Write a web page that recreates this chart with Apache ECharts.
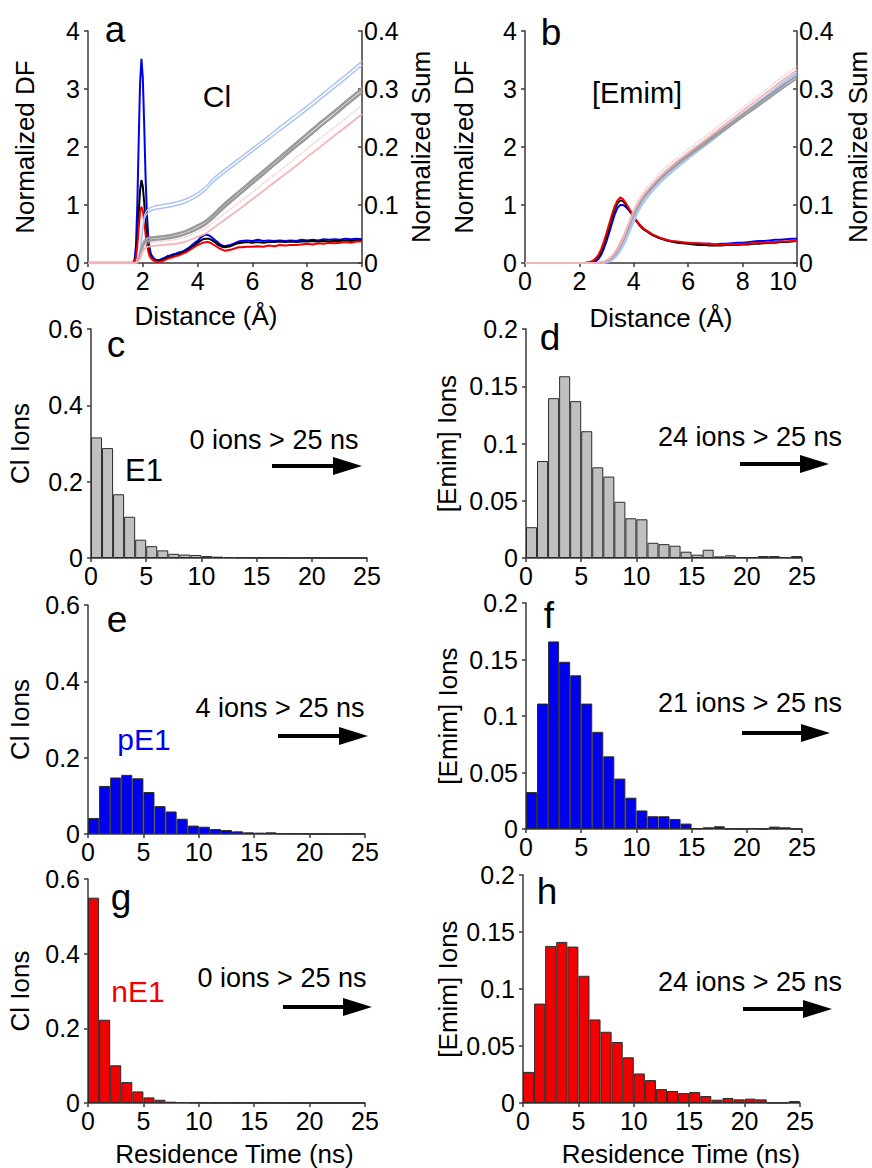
<!DOCTYPE html>
<html>
<head>
<meta charset="utf-8">
<script src="https://cdn.jsdelivr.net/npm/echarts@6/dist/echarts.min.js"></script>
<style>
html, body { margin: 0; padding: 0; background: #fff; }
#chart { width: 872px; height: 1168px; }
</style>
</head>
<body>
<div id="chart"></div>
<script>
// ---------- Panel a: Cl distribution functions (left axis) ----------
const distA = [0, 1.5, 1.6, 1.65, 1.7, 1.75, 1.8, 1.85, 1.9, 1.95, 2.0, 2.05, 2.1, 2.15, 2.2, 2.25, 2.3,
  2.4, 2.5, 2.6, 2.7, 2.8, 2.9, 3.0, 3.1, 3.2, 3.3, 3.4, 3.5, 3.6, 3.7, 3.8, 3.9, 4.0, 4.1, 4.2, 4.3, 4.4,
  4.5, 4.6, 4.7, 4.8, 4.9, 5.0, 5.1, 5.2, 5.3, 5.4, 5.5, 5.6,
  5.8, 6.0, 6.2, 6.4, 6.6, 6.8, 7.0, 7.2, 7.4, 7.6, 7.8, 8.0, 8.2, 8.4, 8.6, 8.8, 9.0, 9.2, 9.4, 9.6, 9.8, 10.0];
const dfBlueA = [0, 0, 0, 0.01, 0.05, 0.3, 1.0, 2.1, 3.1, 3.52, 3.2, 2.4, 1.5, 0.85, 0.45, 0.25, 0.15,
  0.08, 0.05, 0.05, 0.07, 0.09, 0.12, 0.13, 0.15, 0.16, 0.18, 0.19, 0.21, 0.24, 0.27, 0.31, 0.35, 0.38, 0.43, 0.47, 0.49, 0.48,
  0.45, 0.41, 0.37, 0.33, 0.30, 0.29, 0.30, 0.31, 0.33, 0.35, 0.37, 0.38,
  0.39, 0.38, 0.40, 0.38, 0.39, 0.38, 0.39, 0.38, 0.39, 0.38, 0.40, 0.39, 0.40, 0.39, 0.41, 0.40, 0.41, 0.40, 0.42, 0.41, 0.42, 0.41];
const dfBlackA = [0, 0, 0, 0, 0.03, 0.15, 0.45, 0.85, 1.25, 1.43, 1.32, 1.05, 0.72, 0.45, 0.27, 0.16, 0.10,
  0.05, 0.03, 0.03, 0.05, 0.07, 0.09, 0.11, 0.12, 0.14, 0.15, 0.17, 0.19, 0.21, 0.24, 0.28, 0.31, 0.35, 0.38, 0.41, 0.42, 0.42,
  0.40, 0.37, 0.33, 0.30, 0.28, 0.27, 0.28, 0.29, 0.31, 0.33, 0.34, 0.35,
  0.36, 0.35, 0.36, 0.35, 0.36, 0.36, 0.37, 0.36, 0.37, 0.36, 0.37, 0.37, 0.38, 0.37, 0.38, 0.37, 0.38, 0.38, 0.39, 0.38, 0.39, 0.39];
const dfRedA = [0, 0, 0, 0, 0.02, 0.1, 0.3, 0.6, 0.88, 0.97, 0.9, 0.72, 0.5, 0.32, 0.2, 0.12, 0.08,
  0.04, 0.02, 0.02, 0.03, 0.05, 0.07, 0.09, 0.10, 0.12, 0.13, 0.15, 0.17, 0.19, 0.22, 0.25, 0.28, 0.31, 0.33, 0.35, 0.36, 0.36,
  0.34, 0.31, 0.28, 0.25, 0.23, 0.21, 0.22, 0.23, 0.24, 0.26, 0.27, 0.27,
  0.28, 0.28, 0.29, 0.28, 0.30, 0.29, 0.31, 0.30, 0.31, 0.31, 0.32, 0.33, 0.32, 0.34, 0.33, 0.35, 0.34, 0.35, 0.36, 0.35, 0.37, 0.37];

// ---------- Panel a: running sums (right axis), each drawn as a pair of lines ----------
const sumXA = [0, 1.7, 1.8, 1.9, 1.95, 2.0, 2.05, 2.1, 2.2, 2.3, 2.5, 3.0, 3.5, 4.0, 4.3, 4.6, 5.0, 5.5, 6.0, 6.5, 7.0, 7.5, 8.0, 8.5, 9.0, 9.5, 10.0];
const sumBlueHiA = [0, 0, 0.004, 0.022, 0.042, 0.063, 0.078, 0.087, 0.093, 0.096, 0.099, 0.103, 0.109, 0.121, 0.132, 0.147, 0.162, 0.180, 0.198, 0.216, 0.235, 0.253, 0.271, 0.290, 0.309, 0.328, 0.348];
const sumBlueLoA = [0, 0, 0.003, 0.019, 0.038, 0.058, 0.073, 0.081, 0.087, 0.090, 0.093, 0.097, 0.103, 0.115, 0.126, 0.141, 0.156, 0.174, 0.192, 0.210, 0.228, 0.246, 0.264, 0.283, 0.302, 0.321, 0.341];
const sumGrayHiA = [0, 0, 0.002, 0.013, 0.023, 0.031, 0.037, 0.040, 0.043, 0.044, 0.045, 0.048, 0.054, 0.065, 0.073, 0.085, 0.103, 0.123, 0.143, 0.163, 0.183, 0.203, 0.223, 0.243, 0.262, 0.282, 0.301];
const sumGrayLoA = [0, 0, 0.001, 0.011, 0.020, 0.027, 0.033, 0.036, 0.038, 0.039, 0.040, 0.043, 0.049, 0.059, 0.067, 0.079, 0.097, 0.117, 0.137, 0.157, 0.177, 0.197, 0.216, 0.236, 0.255, 0.275, 0.294];
const sumPinkHiA = [0, 0, 0.002, 0.010, 0.018, 0.025, 0.029, 0.032, 0.034, 0.035, 0.036, 0.039, 0.044, 0.053, 0.060, 0.071, 0.086, 0.104, 0.122, 0.141, 0.159, 0.178, 0.197, 0.216, 0.234, 0.253, 0.272];
const sumPinkLoA = [0, 0, 0.001, 0.008, 0.014, 0.020, 0.024, 0.026, 0.028, 0.029, 0.030, 0.032, 0.036, 0.045, 0.051, 0.061, 0.075, 0.092, 0.110, 0.128, 0.146, 0.164, 0.183, 0.201, 0.220, 0.238, 0.257];

// ---------- Panel b: [Emim] distribution functions ----------
const distB = [0, 2.0, 2.2,
  2.3, 2.4, 2.5, 2.6, 2.7, 2.8, 2.9, 3.0, 3.1, 3.2, 3.3, 3.4, 3.5, 3.6, 3.7, 3.8, 3.9, 4.0, 4.1, 4.2, 4.3, 4.4, 4.5, 4.6, 4.7, 4.8, 4.9, 5.0,
  5.2, 5.4, 5.6, 5.8, 6.0, 6.2, 6.4, 6.6, 6.8, 7.0, 7.2, 7.4, 7.6, 7.8, 8.0, 8.2, 8.4, 8.6, 8.8, 9.0, 9.2, 9.4, 9.6, 9.8, 10.0];
const dfRedB = [0, 0, 0,
  0.01, 0.02, 0.04, 0.08, 0.14, 0.24, 0.37, 0.52, 0.68, 0.84, 0.98, 1.08, 1.13, 1.10, 1.04, 0.96, 0.88, 0.80, 0.73, 0.67, 0.62, 0.58, 0.55, 0.52, 0.49, 0.47, 0.45, 0.43,
  0.40, 0.38, 0.37, 0.36, 0.35, 0.34, 0.34, 0.33, 0.33, 0.32, 0.32, 0.32, 0.33, 0.32, 0.33, 0.33, 0.34, 0.35, 0.35, 0.36, 0.36, 0.37, 0.37, 0.38, 0.38];
const dfBlueB = [0, 0, 0,
  0, 0.005, 0.01, 0.03, 0.07, 0.14, 0.25, 0.38, 0.53, 0.69, 0.84, 0.95, 1.0, 1.0, 0.97, 0.92, 0.86, 0.79, 0.72, 0.66, 0.61, 0.57, 0.54, 0.51, 0.48, 0.46, 0.44, 0.42,
  0.39, 0.37, 0.36, 0.35, 0.34, 0.34, 0.33, 0.33, 0.33, 0.32, 0.33, 0.33, 0.34, 0.35, 0.35, 0.36, 0.37, 0.38, 0.38, 0.39, 0.40, 0.40, 0.41, 0.42, 0.42];
const dfBlackB = [0, 0, 0,
  0.005, 0.01, 0.03, 0.06, 0.11, 0.20, 0.32, 0.46, 0.62, 0.78, 0.93, 1.03, 1.08, 1.07, 1.01, 0.94, 0.87, 0.79, 0.72, 0.66, 0.61, 0.57, 0.54, 0.51, 0.48, 0.46, 0.44, 0.42,
  0.39, 0.37, 0.35, 0.34, 0.33, 0.32, 0.31, 0.31, 0.30, 0.30, 0.30, 0.31, 0.31, 0.31, 0.32, 0.32, 0.33, 0.33, 0.34, 0.35, 0.35, 0.36, 0.36, 0.37, 0.38];

// ---------- Panel b: running sums ----------
const sumXB = [0, 2.5, 2.8, 3.0, 3.2, 3.4, 3.6, 3.8, 4.0, 4.2, 4.4, 4.6, 5.0, 5.5, 6.0, 6.5, 7.0, 7.5, 8.0, 8.5, 9.0, 9.5, 10.0];
const sumPinkHiB = [0, 0, 0.002, 0.006, 0.014, 0.028, 0.047, 0.070, 0.094, 0.112, 0.126, 0.137, 0.157, 0.178, 0.196, 0.214, 0.232, 0.250, 0.268, 0.286, 0.304, 0.322, 0.340];
const sumPinkLoB = [0, 0, 0.001, 0.004, 0.011, 0.024, 0.042, 0.065, 0.088, 0.106, 0.120, 0.131, 0.151, 0.172, 0.190, 0.208, 0.226, 0.244, 0.262, 0.280, 0.298, 0.316, 0.333];
const sumGrayHiB = [0, 0, 0.001, 0.004, 0.011, 0.024, 0.042, 0.064, 0.087, 0.105, 0.119, 0.130, 0.150, 0.170, 0.188, 0.205, 0.222, 0.239, 0.256, 0.273, 0.290, 0.307, 0.323];
const sumGrayLoB = [0, 0, 0.001, 0.003, 0.009, 0.021, 0.038, 0.060, 0.083, 0.101, 0.115, 0.126, 0.146, 0.166, 0.184, 0.201, 0.218, 0.235, 0.252, 0.268, 0.285, 0.302, 0.318];
const sumBlueHiB = [0, 0, 0, 0.002, 0.007, 0.017, 0.033, 0.054, 0.077, 0.097, 0.112, 0.124, 0.145, 0.166, 0.185, 0.203, 0.221, 0.239, 0.257, 0.275, 0.293, 0.311, 0.329];
const sumBlueLoB = [0, 0, 0, 0.001, 0.005, 0.014, 0.029, 0.049, 0.072, 0.092, 0.107, 0.119, 0.140, 0.161, 0.180, 0.198, 0.216, 0.234, 0.252, 0.270, 0.288, 0.306, 0.324];

// ---------- Panels c-h: residence time histograms (1 ns bins) ----------
const bins = ['0', '1', '2', '3', '4', '5', '6', '7', '8', '9', '10', '11', '12', '13', '14', '15', '16', '17', '18', '19', '20', '21', '22', '23', '24'];
const clE1 = [0.316, 0.288, 0.167, 0.108, 0.048, 0.031, 0.020, 0.011, 0.009, 0.008, 0.005, 0.0035, 0.0026, 0.002, 0.0015, 0.001, 0.001, 0.0008, 0.0005, 0.0008, 0.0005, 0.0003, 0.0005, 0.0003, 0];
const emimE1 = [0.0269, 0.0847, 0.1396, 0.1587, 0.137, 0.1107, 0.0792, 0.0711, 0.0491, 0.0347, 0.0338, 0.0133, 0.0121, 0.0107, 0.0055, 0.0029, 0.0072, 0.0014, 0.0023, 0.0009, 0.0009, 0.0017, 0.0017, 0.0009, 0.0017];
const clPE1 = [0.042, 0.126, 0.148, 0.155, 0.146, 0.110, 0.073, 0.059, 0.040, 0.022, 0.019, 0.013, 0.0105, 0.007, 0.0044, 0.0035, 0.0044, 0.0017, 0.001, 0.0009, 0.0005, 0.0005, 0.0005, 0.0005, 0.0005];
const emimPE1 = [0.0327, 0.111, 0.166, 0.148, 0.136, 0.111, 0.086, 0.0643, 0.0446, 0.0277, 0.0164, 0.0113, 0.0113, 0.0089, 0.0048, 0.0006, 0.0015, 0.0024, 0.0003, 0, 0.0006, 0, 0.0021, 0.0015, 0];
const clNE1 = [0.550, 0.223, 0.101, 0.056, 0.031, 0.015, 0.0087, 0.0035, 0.0026, 0.0017, 0.0012, 0.0008, 0.0006, 0.0005, 0.0006, 0.0004, 0.0004, 0.0003, 0.0003, 0.0002, 0.0002, 0.0002, 0.0001, 0.0002, 0.0001];
const emimNE1 = [0.0273, 0.0872, 0.1378, 0.1413, 0.1372, 0.1116, 0.0733, 0.0625, 0.0535, 0.0401, 0.0259, 0.0201, 0.0122, 0.0105, 0.0087, 0.0096, 0.0061, 0.0029, 0.0044, 0.0032, 0.0038, 0.0032, 0.0003, 0.0003, 0.0017];

// ---------- styling ----------
const FONT = '"Liberation Sans", Arial, Helvetica, sans-serif';
const INK = '#3a3a3a';
const C = {
  blue: '#0000f0', black: '#000000', red: '#f00000',
  sumBlue: '#adc4f3', sumGray: '#9a9a9a', sumPink: '#f4b3b6',
  gray: '#c0c0c0', edge: '#2b2b2b'
};

function pairs(xs, ys) { return xs.map((x, i) => [x, ys[i]]); }

const line = { show: true, lineStyle: { color: INK, width: 1.5 } };
const tick = { show: true, length: 4, lineStyle: { color: INK, width: 1.5 } };
const tickIn = { show: true, inside: true, length: 4, lineStyle: { color: INK, width: 1.5 } };
const lbl = (extra) => Object.assign({ color: '#000', fontSize: 25, fontFamily: FONT }, extra || {});
const nameStyle = (extra) => Object.assign({ color: '#000', fontSize: 26, fontFamily: FONT }, extra || {});

const grids = [
  { left: 88, top: 31, width: 274, height: 232 },   // a
  { left: 525, top: 31, width: 272, height: 232 },  // b
  { left: 91, top: 329, width: 276, height: 229 },  // c
  { left: 526, top: 329, width: 276, height: 229 }, // d
  { left: 88, top: 605, width: 277, height: 229 },  // e
  { left: 526, top: 603, width: 276, height: 226 }, // f
  { left: 88, top: 879, width: 277, height: 228 },  // g
  { left: 523, top: 875, width: 277, height: 229 }  // h
];

const xAxes = [];
const yAxes = [];
const series = [];

// distance axes for a and b
[[0, 40, [0, 38, 0, 0]], [1, 42, [0, 0, 0, 0]]].forEach(([g, gap, pad]) => {
  xAxes.push({
    type: 'value', gridIndex: g, position: 'bottom', min: 0, max: 10, interval: 2,
    name: 'Distance (Å)', nameLocation: 'middle', nameGap: gap,
    nameTextStyle: nameStyle({ padding: pad }),
    axisLine: line, axisTick: tick, splitLine: { show: false },
    axisLabel: lbl({ margin: 5, alignMaxLabel: 'right' })
  });
});
[[0, 50, 46], [1, 48, 48]].forEach(([g, gapL, gapR]) => {
  yAxes.push({
    type: 'value', gridIndex: g, min: 0, max: 4, interval: 1, position: 'left',
    name: 'Normalized DF', nameLocation: 'middle', nameGap: gapL, nameTextStyle: nameStyle(),
    axisLine: line, axisTick: tick, splitLine: { show: false }, axisLabel: lbl({ margin: 8 })
  });
  yAxes.push({
    type: 'value', gridIndex: g, min: 0, max: 0.4, interval: 0.1, position: 'right',
    name: 'Normalized Sum', nameLocation: 'middle', nameGap: gapR, nameRotate: 90, nameTextStyle: nameStyle(),
    axisLine: line, axisTick: tickIn, splitLine: { show: false }, axisLabel: lbl({ margin: 2 })
  });
});

function dfLine(xIdx, yIdx, xs, ys, color) {
  series.push({
    type: 'line', xAxisIndex: xIdx, yAxisIndex: yIdx, data: pairs(xs, ys),
    showSymbol: false, silent: true, lineStyle: { color: color, width: 2 }, z: 3
  });
}
function sumLine(xIdx, yIdx, xs, ys, color, width, type) {
  series.push({
    type: 'line', xAxisIndex: xIdx, yAxisIndex: yIdx, data: pairs(xs, ys), smooth: 0.3,
    showSymbol: false, silent: true, lineStyle: { color: color, width: width, type: type || 'solid' }, z: 4
  });
}

// panel a
dfLine(0, 0, distA, dfBlueA, C.blue);
dfLine(0, 0, distA, dfBlackA, C.black);
dfLine(0, 0, distA, dfRedA, C.red);
sumLine(0, 1, sumXA, sumBlueHiA, C.sumBlue, 1.5);
sumLine(0, 1, sumXA, sumBlueLoA, C.sumBlue, 1.5);
sumLine(0, 1, sumXA, sumGrayHiA, C.sumGray, 2.5);
sumLine(0, 1, sumXA, sumGrayLoA, C.sumGray, 2.5);
sumLine(0, 1, sumXA, sumPinkHiA, C.sumPink, 1.2, 'dotted');
sumLine(0, 1, sumXA, sumPinkLoA, C.sumPink, 1.8);

// panel b
dfLine(1, 2, distB, dfBlueB, C.blue);
dfLine(1, 2, distB, dfBlackB, C.black);
dfLine(1, 2, distB, dfRedB, C.red);
sumLine(1, 3, sumXB, sumBlueHiB, C.sumBlue, 2);
sumLine(1, 3, sumXB, sumBlueLoB, C.sumBlue, 2);
sumLine(1, 3, sumXB, sumGrayHiB, C.sumGray, 1.8);
sumLine(1, 3, sumXB, sumGrayLoB, C.sumGray, 1.8);
sumLine(1, 3, sumXB, sumPinkHiB, C.sumPink, 1.2, 'dotted');
sumLine(1, 3, sumXB, sumPinkLoB, C.sumPink, 1.8);

// histogram panels
const hists = [
  { grid: 2, data: clE1, color: C.gray, max: 0.6, step: 0.2, name: 'Cl Ions', gap: 58, title: false },
  { grid: 3, data: emimE1, color: C.gray, max: 0.2, step: 0.05, name: '[Emim] Ions', gap: 66, title: false },
  { grid: 4, data: clPE1, color: C.blue, max: 0.6, step: 0.2, name: 'Cl Ions', gap: 55, title: false },
  { grid: 5, data: emimPE1, color: C.blue, max: 0.2, step: 0.05, name: '[Emim] Ions', gap: 65, title: false },
  { grid: 6, data: clNE1, color: C.red, max: 0.6, step: 0.2, name: 'Cl Ions', gap: 55, title: true, pad: [0, 0, 0, 16] },
  { grid: 7, data: emimNE1, color: C.red, max: 0.2, step: 0.05, name: '[Emim] Ions', gap: 62, title: true, pad: [0, 0, 0, 39] }
];
hists.forEach((h) => {
  const catIdx = xAxes.length;
  xAxes.push({ type: 'category', gridIndex: h.grid, position: 'bottom', data: bins, show: false, boundaryGap: true });
  const valAxis = {
    type: 'value', gridIndex: h.grid, position: 'bottom', min: 0, max: 25, interval: 5,
    axisLine: line, axisTick: tick, splitLine: { show: false }, axisLabel: lbl({ margin: 5 })
  };
  if (h.title) {
    Object.assign(valAxis, {
      name: 'Residence Time (ns)', nameLocation: 'middle', nameGap: 38,
      nameTextStyle: nameStyle({ padding: h.pad })
    });
  }
  xAxes.push(valAxis);
  const yIdx = yAxes.length;
  yAxes.push({
    type: 'value', gridIndex: h.grid, position: 'left', min: 0, max: h.max, interval: h.step,
    name: h.name, nameLocation: 'middle', nameGap: h.gap, nameTextStyle: nameStyle(),
    axisLine: line, axisTick: tick, splitLine: { show: false }, axisLabel: lbl({ margin: 8 })
  });
  series.push({
    type: 'bar', xAxisIndex: catIdx, yAxisIndex: yIdx, data: h.data, silent: true,
    barCategoryGap: '0%', barGap: '0%',
    itemStyle: { color: h.color, borderColor: C.edge, borderWidth: 1 }
  });
});

// ---------- text annotations and arrows ----------
function txt(s, x, y, size, color) {
  return {
    type: 'text', x: x, y: y, silent: true, z: 10,
    style: { text: s, fontSize: size, fontFamily: FONT, fill: color || '#000',
      align: 'center', verticalAlign: 'middle', textAlign: 'center', textVerticalAlign: 'middle' }
  };
}
function arrow(x0, x1, y) {
  return {
    type: 'group', silent: true, z: 10, children: [
      { type: 'rect', shape: { x: x0, y: y - 2, width: x1 - x0 - 26, height: 4 }, style: { fill: '#000' } },
      { type: 'polygon', shape: { points: [[x1 - 29, y - 9], [x1, y], [x1 - 29, y + 9]] }, style: { fill: '#000' } }
    ]
  };
}

const graphic = [
  txt('a', 115, 29, 37), txt('b', 551, 32, 37), txt('c', 116, 344, 37), txt('d', 550, 337, 37),
  txt('e', 117, 619, 37), txt('f', 549, 615, 37), txt('g', 121, 897, 37), txt('h', 547, 891, 37),
  txt('Cl', 217, 96, 30), txt('[Emim]', 637, 93, 29),
  txt('E1', 144, 470, 31), txt('pE1', 144, 739, 30, C.blue), txt('nE1', 138, 991, 30, C.red),
  txt('0 ions > 25 ns', 274, 440, 27), txt('24 ions > 25 ns', 750, 437, 27),
  txt('4 ions > 25 ns', 280, 708, 27), txt('21 ions > 25 ns', 750, 703, 27),
  txt('0 ions > 25 ns', 282, 978, 27), txt('24 ions > 25 ns', 750, 982, 27),
  arrow(272, 362, 466), arrow(740, 829, 464), arrow(278, 368, 736),
  arrow(742, 830, 733), arrow(283, 372, 1007), arrow(743, 832, 1009)
];

const chart = echarts.init(document.getElementById('chart'), null, { renderer: 'svg' });
chart.setOption({
  animation: false,
  backgroundColor: '#ffffff',
  grid: grids,
  xAxis: xAxes,
  yAxis: yAxes,
  series: series,
  graphic: graphic
});
</script>
</body>
</html>
